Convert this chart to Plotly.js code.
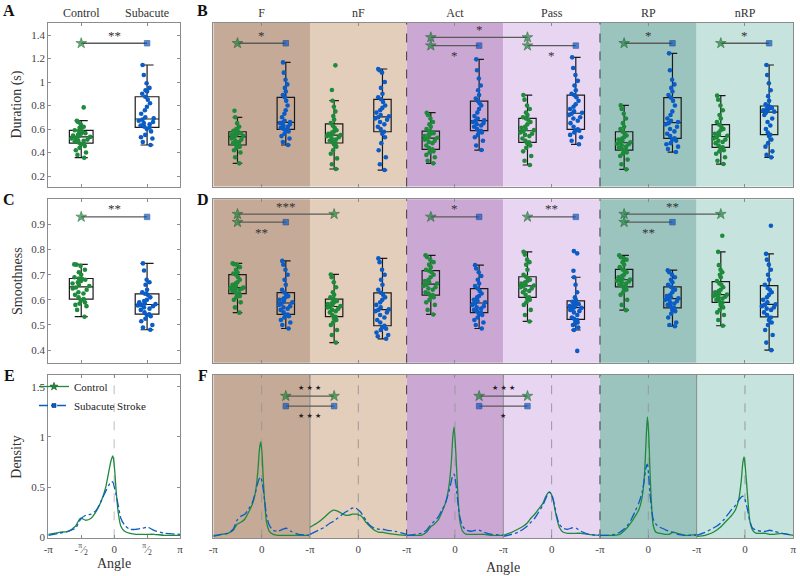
<!DOCTYPE html>
<html><head><meta charset="utf-8">
<script src="https://cdn.plot.ly/plotly-3.0.1.min.js"></script>
<style>html,body{margin:0;padding:0;background:#fff}#chart{width:800px;height:576px}</style>
</head><body><div id="chart"></div>
<script>
// ---------------- DATA ----------------
const groupLabels = ['Control', 'Subacute'];
const conditions = ['F', 'nF', 'Act', 'Pass', 'RP', 'nRP'];

// Panel A: duration (s)
const durationControl = [0.356,0.38,0.40,0.42,0.44,0.455,0.47,0.478,0.485,0.495,0.50,0.505,0.51,0.52,0.525,0.533,0.54,0.545,0.55,0.56,0.565,0.575,0.583,0.59,0.60,0.61,0.62,0.64,0.66,0.671,0.784];
const durationSubacute = [0.464,0.49,0.52,0.53,0.55,0.58,0.60,0.614,0.62,0.63,0.64,0.65,0.66,0.67,0.68,0.691,0.70,0.73,0.76,0.79,0.82,0.85,0.875,0.90,0.92,0.93,0.95,0.99,1.06,1.145];

// Panel B: duration per condition
const durCtrl_F = [0.308,0.36,0.40,0.42,0.44,0.45,0.46,0.464,0.47,0.48,0.49,0.50,0.51,0.52,0.53,0.54,0.545,0.55,0.555,0.56,0.565,0.57,0.577,0.585,0.59,0.60,0.62,0.65,0.70,0.756];
const durSub_F = [0.464,0.49,0.52,0.54,0.56,0.58,0.59,0.597,0.60,0.61,0.62,0.63,0.64,0.65,0.655,0.66,0.67,0.70,0.73,0.76,0.80,0.84,0.87,0.89,0.92,0.95,0.98,1.02,1.08,1.167];
const durCtrl_nF = [0.260,0.30,0.35,0.39,0.42,0.45,0.47,0.478,0.49,0.50,0.51,0.52,0.53,0.54,0.545,0.549,0.555,0.56,0.57,0.58,0.59,0.61,0.628,0.65,0.68,0.71,0.75,0.79,0.841,0.932,1.142];
const durSub_nF = [0.251,0.30,0.36,0.42,0.48,0.53,0.56,0.577,0.60,0.62,0.64,0.66,0.68,0.69,0.70,0.708,0.72,0.74,0.76,0.78,0.80,0.83,0.853,0.87,0.90,0.95,1.00,1.08,1.10,1.111];
const durCtrl_Act = [0.308,0.33,0.36,0.38,0.40,0.41,0.42,0.427,0.44,0.46,0.48,0.49,0.50,0.51,0.52,0.526,0.53,0.54,0.55,0.56,0.565,0.575,0.583,0.60,0.62,0.64,0.66,0.69,0.72,0.739];
const durSub_Act = [0.421,0.46,0.50,0.53,0.55,0.57,0.58,0.586,0.60,0.62,0.63,0.64,0.65,0.66,0.67,0.674,0.69,0.71,0.74,0.77,0.80,0.82,0.838,0.86,0.89,0.93,0.97,1.03,1.10,1.193];
const durCtrl_Pass = [0.294,0.33,0.37,0.41,0.44,0.46,0.48,0.487,0.50,0.52,0.54,0.55,0.56,0.57,0.58,0.591,0.60,0.61,0.62,0.64,0.66,0.68,0.691,0.70,0.72,0.74,0.77,0.80,0.85,0.889];
const durSub_Pass = [0.470,0.50,0.53,0.55,0.57,0.585,0.59,0.597,0.62,0.65,0.67,0.69,0.70,0.72,0.73,0.739,0.75,0.77,0.79,0.81,0.84,0.87,0.889,0.90,0.93,0.97,1.01,1.06,1.12,1.210];
const durCtrl_RP = [0.257,0.30,0.34,0.37,0.39,0.40,0.41,0.421,0.43,0.44,0.45,0.46,0.47,0.475,0.48,0.487,0.50,0.51,0.52,0.53,0.545,0.56,0.577,0.60,0.62,0.65,0.69,0.73,0.77,0.801];
const durSub_RP = [0.404,0.43,0.45,0.47,0.48,0.50,0.51,0.521,0.54,0.56,0.58,0.60,0.62,0.64,0.65,0.660,0.67,0.69,0.72,0.75,0.80,0.84,0.867,0.89,0.92,0.95,0.98,1.02,1.10,1.244];
const durCtrl_nRP = [0.302,0.33,0.36,0.39,0.41,0.42,0.435,0.444,0.46,0.48,0.49,0.50,0.51,0.52,0.53,0.543,0.55,0.56,0.57,0.59,0.60,0.62,0.637,0.66,0.69,0.72,0.76,0.80,0.85,0.884];
const durSub_nRP = [0.359,0.38,0.41,0.45,0.48,0.51,0.54,0.552,0.57,0.60,0.63,0.66,0.69,0.72,0.74,0.748,0.755,0.76,0.77,0.775,0.78,0.79,0.796,0.81,0.84,0.88,0.93,0.99,1.06,1.145];

// Panel C: smoothness
const smoothControl = [0.533,0.56,0.575,0.58,0.585,0.59,0.598,0.603,0.61,0.62,0.625,0.63,0.64,0.645,0.649,0.655,0.66,0.665,0.67,0.675,0.68,0.683,0.685,0.69,0.70,0.71,0.72,0.735,0.74,0.741];
const smoothSubacute = [0.481,0.49,0.50,0.515,0.525,0.535,0.54,0.543,0.55,0.56,0.565,0.57,0.575,0.578,0.58,0.583,0.585,0.59,0.595,0.60,0.61,0.62,0.624,0.63,0.64,0.66,0.67,0.68,0.717,0.745];

// Panel D: smoothness per condition
const smoCtrl_F = [0.549,0.57,0.59,0.60,0.61,0.615,0.62,0.625,0.63,0.635,0.64,0.642,0.645,0.647,0.648,0.649,0.655,0.66,0.665,0.67,0.68,0.69,0.70,0.705,0.71,0.72,0.73,0.74,0.742,0.745];
const smoSub_F = [0.486,0.50,0.51,0.52,0.53,0.535,0.54,0.542,0.55,0.56,0.565,0.57,0.575,0.58,0.585,0.590,0.595,0.60,0.605,0.61,0.615,0.62,0.629,0.64,0.66,0.68,0.70,0.72,0.74,0.755];
const smoCtrl_nF = [0.430,0.46,0.48,0.50,0.51,0.52,0.525,0.533,0.54,0.55,0.555,0.56,0.565,0.57,0.572,0.575,0.58,0.583,0.586,0.59,0.595,0.60,0.603,0.61,0.62,0.63,0.65,0.67,0.69,0.701];
const smoSub_nF = [0.445,0.455,0.46,0.47,0.48,0.485,0.49,0.497,0.51,0.52,0.53,0.54,0.55,0.555,0.56,0.562,0.57,0.58,0.59,0.60,0.61,0.62,0.628,0.64,0.66,0.68,0.70,0.72,0.75,0.765];
const smoCtrl_Act = [0.542,0.56,0.58,0.59,0.60,0.61,0.615,0.619,0.625,0.63,0.64,0.645,0.65,0.655,0.66,0.665,0.67,0.675,0.68,0.69,0.70,0.71,0.716,0.72,0.73,0.74,0.75,0.76,0.77,0.777];
const smoSub_Act = [0.486,0.50,0.51,0.52,0.53,0.54,0.545,0.549,0.555,0.56,0.565,0.57,0.575,0.58,0.585,0.590,0.595,0.60,0.61,0.615,0.625,0.635,0.645,0.655,0.665,0.68,0.695,0.71,0.725,0.738];
const smoCtrl_Pass = [0.514,0.54,0.56,0.58,0.59,0.60,0.605,0.610,0.62,0.63,0.635,0.64,0.645,0.65,0.655,0.657,0.66,0.665,0.67,0.675,0.68,0.685,0.692,0.70,0.72,0.74,0.75,0.76,0.78,0.791];
const smoSub_Pass = [0.397,0.480,0.49,0.50,0.505,0.51,0.515,0.52,0.525,0.53,0.54,0.55,0.555,0.56,0.565,0.568,0.57,0.575,0.578,0.58,0.583,0.586,0.59,0.592,0.60,0.61,0.63,0.66,0.69,0.716,0.785,0.794];
const smoCtrl_RP = [0.559,0.58,0.60,0.62,0.63,0.64,0.645,0.652,0.655,0.66,0.665,0.67,0.673,0.676,0.679,0.681,0.685,0.69,0.695,0.70,0.71,0.715,0.721,0.73,0.74,0.75,0.76,0.765,0.77,0.777];
const smoSub_RP = [0.495,0.50,0.51,0.53,0.545,0.555,0.56,0.568,0.575,0.58,0.585,0.59,0.595,0.60,0.603,0.606,0.61,0.615,0.62,0.63,0.64,0.645,0.652,0.66,0.67,0.68,0.69,0.70,0.71,0.718];
const smoCtrl_nRP = [0.497,0.52,0.54,0.55,0.56,0.57,0.58,0.588,0.595,0.60,0.605,0.61,0.613,0.616,0.619,0.621,0.625,0.63,0.635,0.64,0.65,0.66,0.665,0.675,0.69,0.70,0.71,0.72,0.738,0.791,0.855];
const smoSub_nRP = [0.400,0.43,0.46,0.48,0.50,0.51,0.52,0.530,0.54,0.55,0.56,0.565,0.57,0.575,0.58,0.582,0.59,0.60,0.61,0.62,0.63,0.64,0.647,0.66,0.68,0.70,0.72,0.74,0.76,0.783,0.895];

// Panels E/F: angle density (common angle grid, radians)
const angleGrid = [-3.1416,-2.6,-2.2,-1.85,-1.6,-1.35,-1.1,-0.85,-0.6,-0.4,-0.25,-0.14,-0.06,0.02,0.1,0.2,0.32,0.5,0.75,1.05,1.35,1.6,1.9,2.4,3.1416];
const densE_ctrl = [0.03,0.05,0.06,0.11,0.19,0.17,0.19,0.26,0.37,0.50,0.66,0.77,0.81,0.68,0.45,0.24,0.11,0.06,0.04,0.03,0.03,0.03,0.03,0.02,0.02];
const densE_sub  = [0.02,0.04,0.06,0.09,0.18,0.22,0.23,0.27,0.37,0.46,0.52,0.555,0.55,0.49,0.42,0.31,0.19,0.12,0.08,0.08,0.09,0.10,0.07,0.04,0.03];
const densCtrl_F = [0.02,0.03,0.04,0.07,0.13,0.15,0.18,0.25,0.33,0.45,0.65,0.88,0.95,0.85,0.60,0.35,0.15,0.06,0.03,0.02,0.02,0.02,0.02,0.02,0.02];
const densSub_F  = [0.01,0.03,0.04,0.08,0.17,0.21,0.23,0.28,0.35,0.45,0.54,0.59,0.60,0.56,0.48,0.36,0.22,0.12,0.07,0.06,0.08,0.09,0.06,0.03,0.02];
const densCtrl_nF = [0.10,0.15,0.20,0.25,0.27,0.26,0.24,0.22,0.22,0.23,0.23,0.23,0.23,0.22,0.22,0.21,0.19,0.15,0.11,0.07,0.05,0.05,0.04,0.03,0.02];
const densSub_nF  = [0.03,0.07,0.10,0.14,0.16,0.19,0.22,0.25,0.27,0.29,0.295,0.29,0.28,0.27,0.26,0.24,0.21,0.17,0.12,0.09,0.08,0.08,0.07,0.06,0.03];
const densCtrl_Act = [0.02,0.02,0.02,0.05,0.10,0.13,0.17,0.25,0.35,0.50,0.72,1.00,1.10,0.95,0.70,0.40,0.16,0.06,0.03,0.03,0.03,0.03,0.03,0.02,0.02];
const densSub_Act  = [0.02,0.03,0.04,0.07,0.12,0.16,0.20,0.27,0.35,0.45,0.55,0.62,0.63,0.58,0.48,0.33,0.20,0.11,0.07,0.06,0.07,0.07,0.05,0.03,0.02];
const densCtrl_Pass = [0.02,0.05,0.08,0.11,0.14,0.19,0.23,0.28,0.33,0.40,0.44,0.45,0.44,0.41,0.37,0.29,0.20,0.10,0.05,0.04,0.04,0.04,0.04,0.03,0.02];
const densSub_Pass  = [0.01,0.03,0.05,0.08,0.11,0.15,0.19,0.25,0.31,0.38,0.43,0.45,0.44,0.42,0.38,0.31,0.22,0.13,0.09,0.08,0.095,0.09,0.06,0.03,0.02];
const densCtrl_RP = [0.02,0.02,0.02,0.03,0.06,0.10,0.15,0.21,0.28,0.40,0.62,0.98,1.20,1.05,0.70,0.35,0.12,0.05,0.04,0.03,0.03,0.05,0.04,0.02,0.03];
const densSub_RP  = [0.02,0.02,0.03,0.05,0.08,0.12,0.18,0.26,0.35,0.45,0.58,0.70,0.73,0.62,0.45,0.30,0.18,0.13,0.10,0.08,0.06,0.05,0.03,0.02,0.02];
const densCtrl_nRP = [0.01,0.02,0.04,0.07,0.10,0.14,0.18,0.22,0.28,0.38,0.55,0.74,0.80,0.70,0.55,0.35,0.16,0.07,0.04,0.04,0.04,0.03,0.03,0.04,0.02];
const densSub_nRP  = [0.02,0.05,0.08,0.11,0.14,0.18,0.23,0.28,0.32,0.37,0.40,0.41,0.40,0.37,0.32,0.25,0.16,0.09,0.07,0.06,0.06,0.07,0.06,0.04,0.02];

// significance brackets (group indices: even = Control, odd = Subacute)
const sigA_from = [0], sigA_to = [1], sigA_y = [1.33], sigA_text = ['**'], sigA_below = [false];
const sigB_from = [0,4,4,6,8,10], sigB_to = [1,6,5,7,9,11];
const sigB_y = [1.33,1.38,1.31,1.31,1.33,1.33];
const sigB_text = ['*','*','*','*','*','*'];
const sigB_below = [false,false,true,true,false,false];
const sigC_from = [0], sigC_to = [1], sigC_y = [0.93], sigC_text = ['**'], sigC_below = [false];
const sigD_from = [0,0,4,6,8,8], sigD_to = [2,1,5,7,10,9];
const sigD_y = [0.941,0.909,0.93,0.93,0.941,0.909];
const sigD_text = ['***','**','*','**','**','**'];
const sigD_below = [false,true,false,false,false,true];
// F: comparisons between neighbouring conditions (condition index, angle pi/2 -> next condition -pi/2)
const sigF_cond = [0, 2];
const sigF_ctrl_y = [1.407, 1.407], sigF_ctrl_text = ['★ ★ ★', '★ ★ ★'];
const sigF_sub_y = [1.307, 1.307], sigF_sub_text = ['★ ★ ★', '★'];

// ---------------- STYLE ----------------
const PI = Math.PI;
const GREEN = '#1f8a3b', BLUE = '#0b5cc5';
const GREEN_EDGE = '#0f4d1f', BLUE_EDGE = '#06357a';
const FONT = 'Liberation Serif, Times New Roman, serif';
const segFill = ['#c5aa97', '#e3cdbb', '#cba8d3', '#e8d5f1', '#9cc4bf', '#c6e3dd'];

const durCtrlByCond = [durCtrl_F, durCtrl_nF, durCtrl_Act, durCtrl_Pass, durCtrl_RP, durCtrl_nRP];
const durSubByCond = [durSub_F, durSub_nF, durSub_Act, durSub_Pass, durSub_RP, durSub_nRP];
const smoCtrlByCond = [smoCtrl_F, smoCtrl_nF, smoCtrl_Act, smoCtrl_Pass, smoCtrl_RP, smoCtrl_nRP];
const smoSubByCond = [smoSub_F, smoSub_nF, smoSub_Act, smoSub_Pass, smoSub_RP, smoSub_nRP];
const densCtrlByCond = [densCtrl_F, densCtrl_nF, densCtrl_Act, densCtrl_Pass, densCtrl_RP, densCtrl_nRP];
const densSubByCond = [densSub_F, densSub_nF, densSub_Act, densSub_Pass, densSub_RP, densSub_nRP];

const traces = [], annotations = [], shapes = [];

function addBox(vals, xpos, isCtrl, xa, ya) {
  traces.push({type: 'box', y: vals, x0: xpos, width: 0.36, xaxis: xa, yaxis: ya,
    boxpoints: 'all', jitter: 0.85, pointpos: 0, whiskerwidth: 0.55,
    marker: {color: isCtrl ? GREEN : BLUE, size: 4.6},
    line: {color: '#1a1a1a', width: 1.2}, fillcolor: 'rgba(0,0,0,0)',
    showlegend: false, hoverinfo: 'skip'});
}
function addSig(xa, ya, x0, x1, y, ctrl0, ctrl1, text, below, starFont) {
  const sym = c => c ? 'star' : 'square';
  traces.push({type: 'scatter', mode: 'lines+markers', x: [x0, x1], y: [y, y], xaxis: xa, yaxis: ya,
    line: {color: '#5a5a5a', width: 1.3},
    marker: {symbol: [sym(ctrl0), sym(ctrl1)], color: [ctrl0 ? GREEN : BLUE, ctrl1 ? GREEN : BLUE],
      size: [ctrl0 ? 8 : 5.5, ctrl1 ? 8 : 5.5],
      line: {color: [ctrl0 ? GREEN_EDGE : BLUE_EDGE, ctrl1 ? GREEN_EDGE : BLUE_EDGE], width: 0.7}},
    showlegend: false, hoverinfo: 'skip'});
  annotations.push({xref: xa, yref: ya, x: (x0 + x1) / 2, y: y, text: text, showarrow: false,
    yshift: below ? -10 : 8,
    font: starFont ? {family: 'DejaVu Sans', size: 7, color: '#222'} : {family: FONT, size: 13, color: '#333'}});
}
function addDensity(xa, ya, dens, offset, isCtrl) {
  traces.push({type: 'scatter', mode: 'lines', x: angleGrid.map(t => t + offset), y: dens,
    xaxis: xa, yaxis: ya,
    line: {color: isCtrl ? GREEN : BLUE, width: 1.3, dash: isCtrl ? 'solid' : 'dashdot', shape: 'spline', smoothing: 0.7},
    showlegend: false, hoverinfo: 'skip'});
}

// backgrounds for B, D, F
conditions.forEach((c, k) => {
  shapes.push({type: 'rect', xref: 'x2', yref: 'y2 domain', x0: 2 * k, x1: 2 * k + 2, y0: 0, y1: 1, fillcolor: segFill[k], line: {width: 0}, layer: 'below'});
  shapes.push({type: 'rect', xref: 'x4', yref: 'y4 domain', x0: 2 * k, x1: 2 * k + 2, y0: 0, y1: 1, fillcolor: segFill[k], line: {width: 0}, layer: 'below'});
  shapes.push({type: 'rect', xref: 'x6', yref: 'y6 domain', x0: -PI + 2 * PI * k, x1: PI + 2 * PI * k, y0: 0, y1: 1, fillcolor: segFill[k], line: {width: 0}, layer: 'below'});
});
[4, 8].forEach(x => {
  shapes.push({type: 'line', xref: 'x2', yref: 'y2 domain', x0: x, x1: x, y0: 0, y1: 1, line: {color: '#3a3a3a', width: 1, dash: 'dash'}, layer: 'below'});
  shapes.push({type: 'line', xref: 'x4', yref: 'y4 domain', x0: x, x1: x, y0: 0, y1: 1, line: {color: '#3a3a3a', width: 1, dash: 'dash'}, layer: 'below'});
});
[1, 5, 9].forEach(m => shapes.push({type: 'line', xref: 'x6', yref: 'y6 domain', x0: m * PI, x1: m * PI, y0: 0, y1: 1, line: {color: '#8a8a8a', width: 1}, layer: 'below'}));
[3, 7].forEach(m => shapes.push({type: 'line', xref: 'x6', yref: 'y6 domain', x0: m * PI, x1: m * PI, y0: 0, y1: 1, line: {color: '#3a3a3a', width: 1, dash: 'dash'}, layer: 'below'}));
conditions.forEach((c, k) => shapes.push({type: 'line', xref: 'x6', yref: 'y6 domain', x0: 2 * PI * k, x1: 2 * PI * k, y0: 0, y1: 1, line: {color: '#9a9a9a', width: 1, dash: 'dash'}, layer: 'below'}));
shapes.push({type: 'line', xref: 'x5', yref: 'y5 domain', x0: 0, x1: 0, y0: 0, y1: 1, line: {color: '#bdbdbd', width: 1, dash: 'dash'}, layer: 'below'});

// Panel A & C
addBox(durationControl, 1, true, 'x', 'y');
addBox(durationSubacute, 2, false, 'x', 'y');
addBox(smoothControl, 1, true, 'x3', 'y3');
addBox(smoothSubacute, 2, false, 'x3', 'y3');
// Panel B & D
conditions.forEach((c, k) => {
  addBox(durCtrlByCond[k], 2 * k + 0.5, true, 'x2', 'y2');
  addBox(durSubByCond[k], 2 * k + 1.5, false, 'x2', 'y2');
  addBox(smoCtrlByCond[k], 2 * k + 0.5, true, 'x4', 'y4');
  addBox(smoSubByCond[k], 2 * k + 1.5, false, 'x4', 'y4');
});
// significance
sigA_from.forEach((f, i) => addSig('x', 'y', f + 1, sigA_to[i] + 1, sigA_y[i], f % 2 === 0, sigA_to[i] % 2 === 0, sigA_text[i], sigA_below[i]));
sigC_from.forEach((f, i) => addSig('x3', 'y3', f + 1, sigC_to[i] + 1, sigC_y[i], f % 2 === 0, sigC_to[i] % 2 === 0, sigC_text[i], sigC_below[i]));
sigB_from.forEach((f, i) => addSig('x2', 'y2', f + 0.5, sigB_to[i] + 0.5, sigB_y[i], f % 2 === 0, sigB_to[i] % 2 === 0, sigB_text[i], sigB_below[i]));
sigD_from.forEach((f, i) => addSig('x4', 'y4', f + 0.5, sigD_to[i] + 0.5, sigD_y[i], f % 2 === 0, sigD_to[i] % 2 === 0, sigD_text[i], sigD_below[i]));

// Panel E
addDensity('x5', 'y5', densE_ctrl, 0, true);
addDensity('x5', 'y5', densE_sub, 0, false);
// Panel F
conditions.forEach((c, k) => {
  addDensity('x6', 'y6', densCtrlByCond[k], 2 * PI * k, true);
  addDensity('x6', 'y6', densSubByCond[k], 2 * PI * k, false);
});
sigF_cond.forEach((k, i) => {
  const a = 2 * PI * k + PI / 2, b = 2 * PI * (k + 1) - PI / 2;
  addSig('x6', 'y6', a, b, sigF_ctrl_y[i], true, true, sigF_ctrl_text[i], false, true);
  addSig('x6', 'y6', a, b, sigF_sub_y[i], false, false, sigF_sub_text[i], true, true);
});
// legend entries
traces.push({type: 'scatter', mode: 'lines+markers', x: [null], y: [null], xaxis: 'x5', yaxis: 'y5', name: 'Control',
  line: {color: GREEN, width: 1.3}, marker: {symbol: 'star', size: 6, color: GREEN, line: {color: GREEN_EDGE, width: 0.6}}});
traces.push({type: 'scatter', mode: 'lines+markers', x: [null], y: [null], xaxis: 'x5', yaxis: 'y5', name: 'Subacute Stroke',
  line: {color: BLUE, width: 1.3, dash: 'dashdot'}, marker: {symbol: 'square', size: 4, color: BLUE, line: {color: BLUE_EDGE, width: 0.6}}});

// ---------------- LAYOUT ----------------
const W = 800, H = 576;
const row = (top, bot) => [1 - bot / H, 1 - top / H];
const row1 = row(22.7, 186.5), row2 = row(199.3, 362.7), row3 = row(375, 538.3);
const colA = [48.3 / W, 180 / W], colB = [213.3 / W, 793.3 / W];
const ax = (extra) => Object.assign({showline: true, mirror: 'ticks', linecolor: '#8c8c8c', linewidth: 1,
  showgrid: false, zeroline: false, ticks: 'inside', ticklen: 3, tickcolor: '#8c8c8c', type: 'linear',
  tickfont: {family: FONT, size: 11, color: '#444'}, fixedrange: true}, extra);
const condCenters = conditions.map((c, k) => 2 * k + 1);
const fTickVals = [], fTickText = [];
for (let m = -1; m <= 11; m++) { fTickVals.push(m * PI); fTickText.push(m === 11 ? 'π' : (m % 2 === 0 ? '0' : '-π')); }

const layout = {
  width: W, height: H, margin: {l: 0, r: 0, t: 0, b: 0},
  paper_bgcolor: '#fff', plot_bgcolor: 'rgba(0,0,0,0)', boxmode: 'overlay',
  font: {family: FONT, color: '#222'},
  xaxis: ax({domain: colA, anchor: 'y', range: [0.5, 2.5], tickvals: [1, 2], ticktext: groupLabels, side: 'top', tickfont: {family: FONT, size: 12, color: '#333'}}),
  yaxis: ax({domain: row1, anchor: 'x', range: [0.111, 1.505], tickvals: [0.2, 0.4, 0.6, 0.8, 1, 1.2, 1.4]}),
  xaxis2: ax({domain: colB, anchor: 'y2', range: [0, 12], tickvals: condCenters, ticktext: conditions, side: 'top', tickfont: {family: FONT, size: 12, color: '#333'}}),
  yaxis2: ax({domain: row1, anchor: 'x2', range: [0.111, 1.505], showticklabels: false, ticks: ''}),
  xaxis3: ax({domain: colA, anchor: 'y3', range: [0.5, 2.5], tickvals: [1, 2], showticklabels: false}),
  yaxis3: ax({domain: row2, anchor: 'x3', range: [0.35, 1.0], tickvals: [0.4, 0.5, 0.6, 0.7, 0.8, 0.9]}),
  xaxis4: ax({domain: colB, anchor: 'y4', range: [0, 12], tickvals: condCenters, showticklabels: false}),
  yaxis4: ax({domain: row2, anchor: 'x4', range: [0.35, 1.0], showticklabels: false, ticks: ''}),
  xaxis5: ax({domain: colA, anchor: 'y5', range: [-PI, PI], tickvals: [-PI, -PI / 2, 0, PI / 2, PI],
    ticktext: ['-π', '-<sup>π</sup>⁄<sub>2</sub>', '0', '<sup>π</sup>⁄<sub>2</sub>', 'π']}),
  yaxis5: ax({domain: row3, anchor: 'x5', range: [-0.01, 1.617], tickvals: [0, 0.5, 1, 1.5], ticktext: ['0', '0.5', '1', '1.5']}),
  xaxis6: ax({domain: colB, anchor: 'y6', range: [-PI, 11 * PI], tickvals: fTickVals, ticktext: fTickText}),
  yaxis6: ax({domain: row3, anchor: 'x6', range: [-0.01, 1.617], showticklabels: false, ticks: ''}),
  showlegend: true,
  legend: {x: 34 / W, y: 1 - 372 / H, xanchor: 'left', yanchor: 'top', bgcolor: 'rgba(0,0,0,0)',
    font: {family: FONT, size: 11, color: '#222'}, tracegroupgap: 0, itemwidth: 30},
  shapes: shapes,
  annotations: annotations.concat([
    ['A', 9, 11], ['B', 203, 11], ['C', 9, 199], ['D', 203, 199], ['E', 9, 375], ['F', 203, 375]
  ].map(([t, x, y]) => ({xref: 'paper', yref: 'paper', x: x / W, y: 1 - y / H, text: '<b>' + t + '</b>', showarrow: false,
    xanchor: 'center', yanchor: 'middle', font: {family: FONT, size: 16, color: '#111'}})),
  [
    ['Duration (s)', 17, 104.6, -90], ['Smoothness', 17, 281, -90], ['Density', 17, 456.7, -90],
    ['Angle', 114, 563, 0], ['Angle', 503, 567, 0]
  ].map(([t, x, y, a]) => ({xref: 'paper', yref: 'paper', x: x / W, y: 1 - y / H, text: t, showarrow: false, textangle: a,
    xanchor: 'center', yanchor: 'middle', font: {family: FONT, size: 14, color: '#333'}})))
};

Plotly.newPlot('chart', traces, layout, {staticPlot: true});
</script></body></html>
